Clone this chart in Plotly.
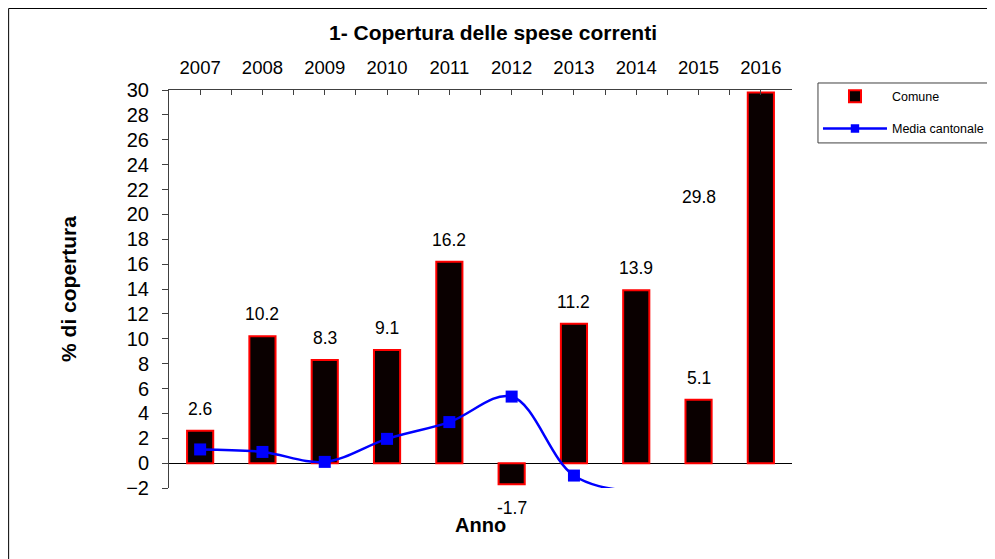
import plotly.graph_objects as go

# dati del grafico
anni = ['2007', '2008', '2009', '2010', '2011', '2012', '2013', '2014', '2015', '2016']
comune = [2.6, 10.2, 8.3, 9.1, 16.2, -1.7, 11.2, 13.9, 5.1, 29.8]
media_cantonale = [1.1, 0.9, 0.1, 1.95, 3.3, 5.35, -1.0, -2.35, -2.6, -2.8]

Y_MIN, Y_MAX = -2, 30
x_pos = list(range(len(anni)))

# Excel ha spostato l'etichetta del 2016 (fuori scala) sulla colonna precedente
label_override = {9: (8, 21.4)}

# come in Excel, i marcatori fuori scala non vengono disegnati
marker_size = [12 if Y_MIN <= v <= Y_MAX else 0 for v in media_cantonale]

fig = go.Figure()

fig.add_trace(go.Bar(
    name='Comune', x=x_pos, y=comune, width=0.42,
    marker={'color': '#0a0000', 'line': {'color': '#ff0000', 'width': 2}},
))
fig.add_trace(go.Scatter(
    name='Media cantonale', x=x_pos, y=media_cantonale,
    mode='lines+markers', line_shape='spline',
    line={'color': '#0000ff', 'width': 2.5},
    marker={'symbol': 'square', 'size': marker_size, 'color': '#0000ff',
            'opacity': 1, 'line': {'width': 0}},
))

annotations = []
for i, v in enumerate(comune):
    if i in label_override:
        ax, ay = label_override[i]
        annotations.append(dict(x=ax, y=ay, text=f"{v:.1f}", showarrow=False,
                                xref='x', yref='y', font={'size': 17.5}))
    else:
        annotations.append(dict(x=i, y=v, text=f"{v:.1f}", showarrow=False,
                                xref='x', yref='y', yshift=22 if v >= 0 else -24,
                                font={'size': 17.5}))

annotations.append(dict(x=0.5, y=-0.093, xref='paper', yref='paper', text='<b>Anno</b>',
                        showarrow=False, font={'size': 20}, yanchor='middle'))

# tick ogni mezza categoria, etichette solo al centro
tickvals = [i / 2 - 0.5 for i in range(2 * len(anni) + 1)]
ticktext = [anni[int(t)] if t == int(t) else '' for t in tickvals]

fig.update_layout(
    width=987, height=551,
    margin={'l': 161, 'r': 203, 't': 82, 'b': 71, 'autoexpand': False},
    paper_bgcolor='white', plot_bgcolor='white',
    font={'family': 'Arial, Liberation Sans, sans-serif', 'size': 17, 'color': 'black'},
    title={'text': '<b>1- Copertura delle spese correnti</b>', 'x': 0.4914, 'xanchor': 'center',
           'y': 0.955, 'yanchor': 'middle', 'font': {'size': 21}},
    xaxis={'range': [-0.5, 9.5], 'side': 'top', 'showline': True, 'linecolor': '#404040',
           'tickmode': 'array', 'tickvals': tickvals, 'ticktext': ticktext,
           'ticks': 'inside', 'ticklen': 5, 'tickcolor': '#404040',
           'showgrid': False, 'zeroline': False, 'ticklabelstandoff': 8,
           'tickfont': {'size': 18.5}},
    yaxis={'range': [Y_MIN, Y_MAX], 'dtick': 2, 'showline': True, 'linecolor': '#404040',
           'ticks': 'outside', 'ticklen': 6, 'tickcolor': '#404040',
           'showgrid': False, 'zeroline': True, 'zerolinecolor': 'black', 'zerolinewidth': 1,
           'ticklabelstandoff': 9,
           'title': {'text': '<b>% di copertura</b>', 'standoff': 43, 'font': {'size': 21}},
           'tickfont': {'size': 20}},
    showlegend=True,
    legend={'x': 1.0417, 'y': 1.021, 'xanchor': 'left', 'yanchor': 'top',
            'bgcolor': 'rgba(0,0,0,0)', 'borderwidth': 0,
            'font': {'size': 12.5}, 'itemwidth': 64, 'tracegroupgap': 13},
    annotations=annotations,
    shapes=[
        # bordo area grafico
        dict(type='rect', xref='paper', yref='paper', x0=-0.2574, x1=1.5, y0=-0.5, y1=1.2048,
             line={'color': 'black', 'width': 1}),
        # bordo legenda
        dict(type='rect', xref='paper', yref='paper', x0=1.0417, x1=1.5, y0=0.867, y1=1.0176,
             line={'color': '#404040', 'width': 1}),
    ],
)
fig.data[0].legendgroup = 'a'
fig.data[1].legendgroup = 'b'

fig.write_html("out.html")
